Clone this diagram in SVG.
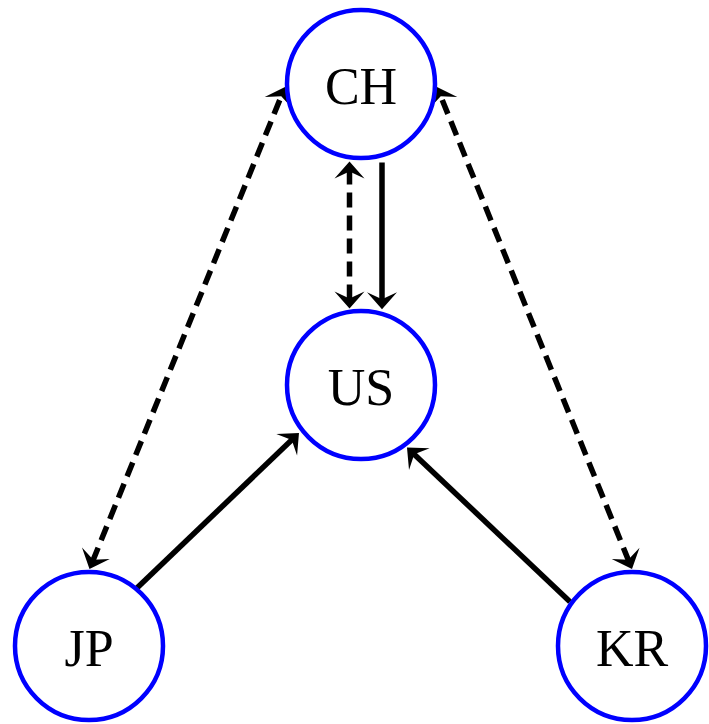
<svg xmlns="http://www.w3.org/2000/svg" width="709" height="724" viewBox="0 0 709 724">
  <style>
    .node circle { fill: #ffffff; stroke: #0000ff; stroke-width: 4.5; }
    .node text { font-family: "Liberation Serif", "Times New Roman", serif; font-size: 52px; fill: #000000; text-anchor: middle; }
    .edge { fill: none; stroke: #000000; stroke-width: 5.5; }
    .dashed { stroke-dasharray: 15 8; }
  </style>
  <defs>
    <marker id="head" viewBox="-12 -17 22 34" refX="0" refY="0" markerWidth="22" markerHeight="34" markerUnits="userSpaceOnUse" orient="auto-start-reverse" overflow="visible">
      <path d="M8,0 L-9,-15 L-2,0 L-9,15 Z" fill="#000000"/>
    </marker>
  </defs>
  <rect width="709" height="724" fill="#ffffff"/>
  <g id="connectors">
    <line class="edge dashed" x1="92.5" y1="561.6" x2="282" y2="94.4" marker-start="url(#head)" marker-end="url(#head)"/>
    <line class="edge dashed" x1="629" y1="561.6" x2="440" y2="94.4" marker-start="url(#head)" marker-end="url(#head)"/>
    <line class="edge dashed" x1="349.5" y1="169.6" x2="349.5" y2="300.4" marker-start="url(#head)" marker-end="url(#head)"/>
    <line class="edge" x1="382" y1="162.5" x2="382" y2="301.3" marker-end="url(#head)"/>
    <line class="edge" x1="136.7" y1="588.3" x2="293.2" y2="438.5" marker-end="url(#head)"/>
    <line class="edge" x1="570" y1="601.7" x2="412.8" y2="453" marker-end="url(#head)"/>
  </g>
  <g id="node-CH" class="node">
    <circle cx="361" cy="84" r="74"/>
    <text x="361" y="104">CH</text>
  </g>
  <g id="node-US" class="node">
    <circle cx="361" cy="385" r="74"/>
    <text x="361" y="405">US</text>
  </g>
  <g id="node-JP" class="node">
    <circle cx="89" cy="646" r="74"/>
    <text x="89" y="666">JP</text>
  </g>
  <g id="node-KR" class="node">
    <circle cx="632" cy="646" r="74"/>
    <text x="632" y="666">KR</text>
  </g>
</svg>
